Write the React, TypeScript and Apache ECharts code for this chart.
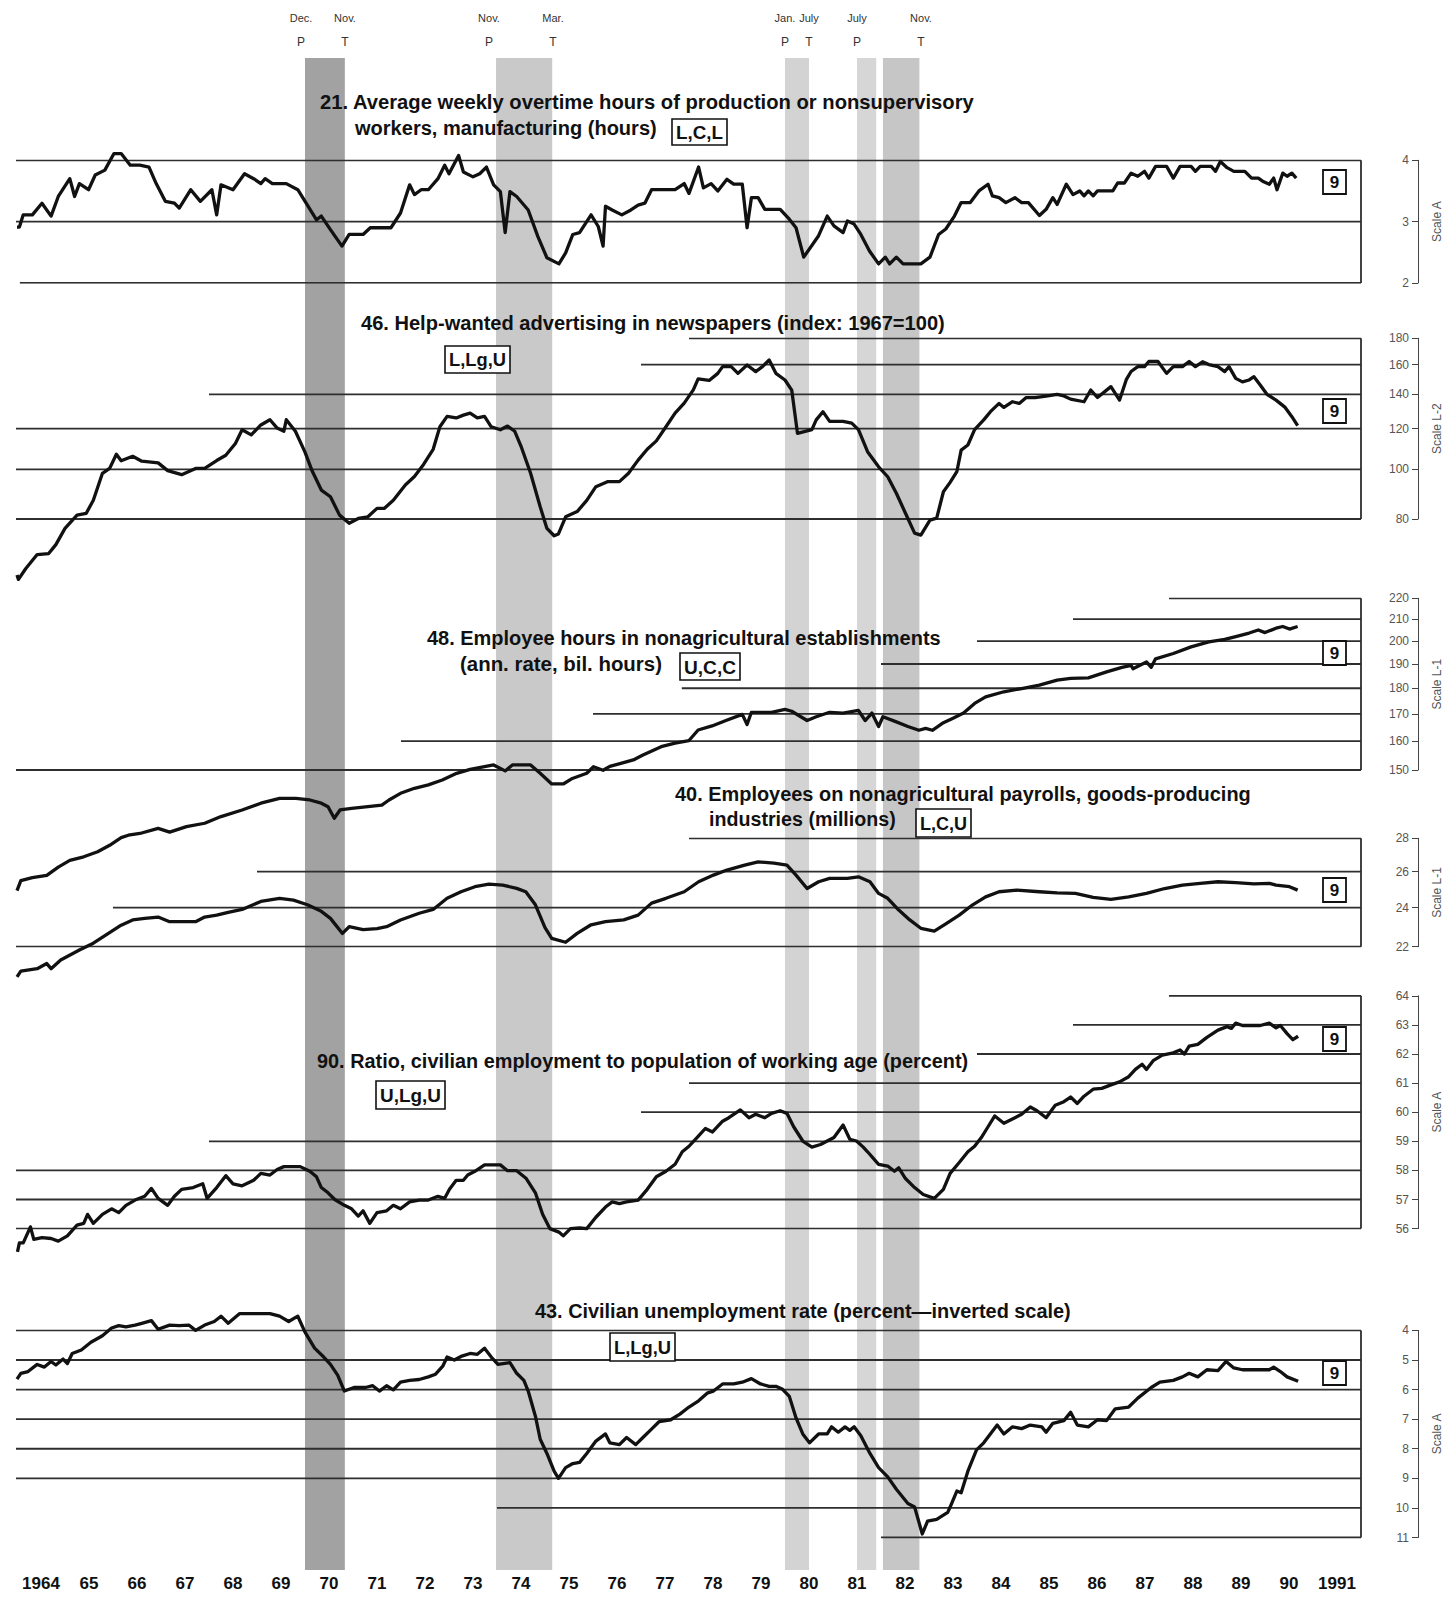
import React, { useEffect, useRef } from "react";
import * as echarts from "echarts";

type Pt = [number, number];

const X_MIN = 1964;
const X_MAX = 1992;

const yearLabels = ["1964", "65", "66", "67", "68", "69", "70", "71", "72", "73", "74", "75", "76", "77", "78", "79", "80", "81", "82", "83", "84", "85", "86", "87", "88", "89", "90", "1991"];

const cycleDates = [1969.917, 1970.833, 1973.833, 1975.167, 1980.0, 1980.5, 1981.5, 1982.833];
const cycleMonths = ["Dec.", "Nov.", "Nov.", "Mar.", "Jan.", "July", "July", "Nov."];
const cycleTypes = ["P", "T", "P", "T", "P", "T", "P", "T"];

const recessionBands: Pt[] = [[1970.0, 1970.83], [1973.98, 1975.15], [1980.0, 1980.5], [1981.5, 1981.9], [1982.04, 1982.8]];
const bandColors = ["#a2a2a2", "#c9c9c9", "#d3d3d3", "#d6d6d6", "#c6c6c6"];

// 21. Average weekly overtime hours (Scale A)
const ticks21 = [2, 3, 4];
const s21: Pt[] = [
  [1964.0, 2.91], [1964.05, 2.91], [1964.13, 3.11], [1964.32, 3.11], [1964.52, 3.3], [1964.71, 3.09], [1964.86, 3.41], [1965.1, 3.7], [1965.2, 3.41], [1965.3, 3.62], [1965.49, 3.52], [1965.63, 3.76], [1965.83, 3.84], [1966.02, 4.11], [1966.17, 4.11], [1966.36, 3.92], [1966.56, 3.92], [1966.75, 3.89], [1966.9, 3.62], [1967.09, 3.33], [1967.28, 3.3], [1967.38, 3.22], [1967.62, 3.52], [1967.82, 3.33], [1968.06, 3.52], [1968.16, 3.11], [1968.25, 3.6], [1968.5, 3.52], [1968.74, 3.78], [1968.93, 3.7], [1969.08, 3.62], [1969.17, 3.7], [1969.32, 3.62], [1969.61, 3.62], [1969.85, 3.52], [1970.05, 3.27], [1970.24, 3.03], [1970.34, 3.09], [1970.53, 2.87], [1970.77, 2.6], [1970.92, 2.79], [1971.21, 2.79], [1971.36, 2.9], [1971.79, 2.9], [1971.99, 3.14], [1972.18, 3.6], [1972.28, 3.44], [1972.42, 3.52], [1972.57, 3.52], [1972.77, 3.7], [1972.91, 3.92], [1973.0, 3.78], [1973.2, 4.08], [1973.3, 3.81], [1973.5, 3.73], [1973.64, 3.78], [1973.78, 3.89], [1973.93, 3.6], [1974.07, 3.49], [1974.17, 2.82], [1974.27, 3.49], [1974.41, 3.41], [1974.65, 3.19], [1974.85, 2.76], [1975.04, 2.41], [1975.29, 2.31], [1975.43, 2.49], [1975.58, 2.79], [1975.72, 2.82], [1975.96, 3.11], [1976.11, 2.92], [1976.21, 2.6], [1976.26, 3.25], [1976.4, 3.19], [1976.6, 3.11], [1976.79, 3.19], [1976.94, 3.27], [1977.08, 3.3], [1977.22, 3.52], [1977.71, 3.52], [1977.9, 3.62], [1978.0, 3.46], [1978.2, 3.89], [1978.3, 3.55], [1978.46, 3.62], [1978.6, 3.5], [1978.79, 3.69], [1978.93, 3.61], [1979.11, 3.61], [1979.21, 2.9], [1979.3, 3.39], [1979.44, 3.39], [1979.58, 3.2], [1979.9, 3.2], [1980.09, 3.04], [1980.23, 2.9], [1980.39, 2.42], [1980.7, 2.77], [1980.88, 3.09], [1981.02, 2.93], [1981.21, 2.82], [1981.3, 3.01], [1981.44, 2.96], [1981.58, 2.79], [1981.76, 2.52], [1981.95, 2.31], [1982.09, 2.42], [1982.18, 2.31], [1982.32, 2.42], [1982.46, 2.31], [1982.83, 2.31], [1983.02, 2.42], [1983.2, 2.79], [1983.35, 2.88], [1983.53, 3.09], [1983.67, 3.31], [1983.86, 3.31], [1984.04, 3.5], [1984.23, 3.61], [1984.32, 3.42], [1984.46, 3.39], [1984.6, 3.31], [1984.79, 3.39], [1984.93, 3.31], [1985.07, 3.31], [1985.3, 3.1], [1985.44, 3.2], [1985.58, 3.39], [1985.67, 3.28], [1985.86, 3.61], [1986.0, 3.44], [1986.14, 3.5], [1986.23, 3.42], [1986.32, 3.5], [1986.42, 3.42], [1986.51, 3.5], [1986.83, 3.5], [1986.93, 3.63], [1987.07, 3.63], [1987.21, 3.79], [1987.35, 3.74], [1987.49, 3.82], [1987.58, 3.71], [1987.72, 3.9], [1987.95, 3.9], [1988.09, 3.71], [1988.23, 3.9], [1988.46, 3.9], [1988.55, 3.82], [1988.65, 3.9], [1988.88, 3.9], [1988.97, 3.82], [1989.07, 3.98], [1989.21, 3.88], [1989.35, 3.82], [1989.58, 3.82], [1989.72, 3.71], [1989.86, 3.71], [1989.95, 3.66], [1990.09, 3.61], [1990.18, 3.71], [1990.25, 3.52], [1990.37, 3.79], [1990.46, 3.74], [1990.56, 3.79], [1990.65, 3.71]
];

// 46. Help-wanted advertising (Scale L-2)
const ticks46 = [80, 100, 120, 140, 160, 180];
const s46: Pt[] = [
  [1964.0, 62.2], [1964.03, 61.0], [1964.18, 64.0], [1964.42, 68.2], [1964.66, 68.5], [1964.81, 71.3], [1965.0, 76.7], [1965.25, 81.4], [1965.44, 82.0], [1965.59, 87.0], [1965.78, 98.2], [1965.93, 100.4], [1966.07, 107.0], [1966.17, 103.9], [1966.41, 106.0], [1966.6, 103.7], [1966.94, 102.9], [1967.14, 99.4], [1967.43, 97.6], [1967.72, 100.4], [1967.91, 100.4], [1968.16, 104.0], [1968.35, 106.5], [1968.55, 112.3], [1968.69, 119.4], [1968.88, 116.7], [1969.08, 122.0], [1969.27, 124.9], [1969.42, 120.3], [1969.56, 118.6], [1969.61, 124.9], [1969.8, 118.6], [1970.0, 108.0], [1970.14, 99.7], [1970.34, 91.1], [1970.53, 88.4], [1970.72, 81.4], [1970.92, 78.5], [1971.11, 80.2], [1971.31, 80.8], [1971.5, 83.9], [1971.65, 83.9], [1971.84, 87.0], [1972.09, 93.2], [1972.28, 96.8], [1972.47, 102.2], [1972.67, 109.4], [1972.81, 121.0], [1972.96, 126.8], [1973.15, 125.9], [1973.3, 127.5], [1973.44, 128.7], [1973.59, 125.9], [1973.74, 126.8], [1973.88, 121.0], [1974.07, 119.4], [1974.22, 121.4], [1974.37, 118.6], [1974.51, 110.3], [1974.7, 98.2], [1974.9, 84.5], [1975.04, 76.7], [1975.19, 74.2], [1975.28, 74.8], [1975.43, 80.8], [1975.67, 82.7], [1975.87, 87.0], [1976.06, 92.5], [1976.3, 94.6], [1976.55, 94.6], [1976.74, 98.2], [1976.94, 104.2], [1977.13, 109.4], [1977.32, 113.6], [1977.52, 121.0], [1977.71, 128.7], [1977.9, 134.6], [1978.09, 142.8], [1978.19, 150.0], [1978.42, 149.0], [1978.6, 153.8], [1978.7, 158.5], [1978.88, 158.5], [1979.02, 153.8], [1979.21, 159.7], [1979.39, 155.0], [1979.53, 158.5], [1979.67, 163.3], [1979.81, 153.8], [1980.0, 149.3], [1980.14, 142.7], [1980.26, 117.5], [1980.42, 118.5], [1980.56, 119.5], [1980.65, 124.8], [1980.79, 129.5], [1980.93, 124.0], [1981.21, 124.0], [1981.39, 123.0], [1981.53, 119.5], [1981.72, 108.2], [1981.95, 101.1], [1982.14, 96.7], [1982.32, 89.8], [1982.51, 82.1], [1982.7, 75.1], [1982.83, 74.4], [1983.02, 79.6], [1983.16, 80.3], [1983.3, 90.4], [1983.44, 94.3], [1983.58, 98.9], [1983.67, 109.0], [1983.81, 111.5], [1983.95, 119.5], [1984.14, 124.8], [1984.28, 129.5], [1984.46, 134.4], [1984.56, 132.0], [1984.74, 135.4], [1984.88, 134.4], [1985.02, 137.9], [1985.21, 137.9], [1985.44, 138.9], [1985.67, 140.0], [1985.81, 139.0], [1985.95, 137.0], [1986.23, 135.4], [1986.37, 142.7], [1986.51, 138.0], [1986.79, 144.9], [1986.97, 136.4], [1987.11, 149.5], [1987.21, 155.1], [1987.35, 158.5], [1987.49, 158.5], [1987.58, 162.2], [1987.77, 162.2], [1987.95, 153.8], [1988.09, 158.5], [1988.28, 158.5], [1988.42, 162.2], [1988.55, 158.5], [1988.7, 162.0], [1988.83, 160.0], [1989.02, 158.5], [1989.16, 155.0], [1989.25, 158.5], [1989.39, 150.4], [1989.53, 148.0], [1989.67, 149.3], [1989.77, 151.5], [1989.9, 146.0], [1990.04, 140.0], [1990.23, 136.4], [1990.42, 132.0], [1990.56, 126.6], [1990.68, 121.6]
];

// 48. Employee hours in nonagricultural establishments (Scale L-1)
const ticks48 = [150, 160, 170, 180, 190, 200, 210, 220];
const s48: Pt[] = [
  [1964.0, 114.6], [1964.08, 117.2], [1964.32, 118.0], [1964.62, 118.6], [1964.86, 120.8], [1965.1, 122.6], [1965.39, 123.6], [1965.68, 125.0], [1965.93, 126.8], [1966.17, 129.0], [1966.32, 129.7], [1966.56, 130.2], [1966.94, 131.7], [1967.18, 130.6], [1967.53, 132.2], [1967.91, 133.2], [1968.25, 135.2], [1968.69, 137.2], [1969.08, 139.3], [1969.47, 140.8], [1969.81, 140.8], [1970.1, 140.3], [1970.34, 139.3], [1970.48, 138.2], [1970.61, 134.7], [1970.73, 137.2], [1970.97, 137.7], [1971.31, 138.2], [1971.6, 138.7], [1971.75, 140.3], [1971.99, 142.4], [1972.28, 144.0], [1972.57, 145.1], [1972.86, 146.7], [1973.16, 148.9], [1973.44, 150.2], [1973.74, 151.1], [1973.93, 151.7], [1974.17, 149.7], [1974.32, 151.7], [1974.7, 151.7], [1974.9, 148.9], [1975.14, 145.4], [1975.38, 145.4], [1975.57, 147.2], [1975.87, 148.9], [1976.01, 151.1], [1976.21, 149.9], [1976.35, 151.2], [1976.84, 153.4], [1977.03, 155.0], [1977.42, 158.0], [1977.71, 159.3], [1978.0, 160.2], [1978.19, 164.0], [1978.48, 165.5], [1978.77, 167.5], [1979.11, 169.8], [1979.21, 166.0], [1979.3, 170.6], [1979.53, 170.6], [1979.72, 170.6], [1980.0, 171.7], [1980.14, 171.0], [1980.46, 167.5], [1980.65, 168.9], [1980.93, 170.6], [1981.21, 170.3], [1981.53, 171.3], [1981.67, 167.5], [1981.81, 170.3], [1981.95, 165.3], [1982.04, 168.9], [1982.32, 167.0], [1982.56, 165.3], [1982.79, 163.9], [1982.93, 164.6], [1983.07, 163.9], [1983.3, 166.7], [1983.49, 168.3], [1983.72, 170.3], [1983.95, 174.0], [1984.18, 176.6], [1984.56, 178.6], [1984.93, 179.9], [1985.3, 181.3], [1985.67, 183.3], [1985.95, 184.0], [1986.32, 184.2], [1986.7, 186.7], [1987.02, 188.6], [1987.21, 189.4], [1987.25, 188.0], [1987.53, 190.9], [1987.63, 188.6], [1987.72, 192.2], [1988.09, 194.5], [1988.46, 197.4], [1988.83, 199.6], [1989.16, 200.7], [1989.39, 202.0], [1989.67, 203.6], [1989.86, 205.0], [1990.0, 203.8], [1990.23, 205.8], [1990.37, 206.6], [1990.51, 205.4], [1990.68, 206.6]
];

// 40. Employees on nonagricultural payrolls, goods-producing (Scale L-1)
const ticks40 = [22, 24, 26, 28];
const s40: Pt[] = [
  [1964.0, 20.57], [1964.08, 20.84], [1964.42, 20.95], [1964.62, 21.19], [1964.71, 20.95], [1964.91, 21.36], [1965.3, 21.84], [1965.59, 22.17], [1965.88, 22.63], [1966.17, 23.08], [1966.41, 23.35], [1966.66, 23.43], [1966.94, 23.5], [1967.18, 23.26], [1967.53, 23.26], [1967.72, 23.26], [1967.91, 23.5], [1968.16, 23.6], [1968.4, 23.75], [1968.69, 23.9], [1969.08, 24.33], [1969.47, 24.5], [1969.76, 24.4], [1970.05, 24.15], [1970.34, 23.8], [1970.53, 23.43], [1970.78, 22.66], [1970.92, 23.0], [1971.21, 22.85], [1971.5, 22.9], [1971.7, 23.0], [1971.99, 23.35], [1972.38, 23.7], [1972.67, 23.9], [1972.96, 24.5], [1973.25, 24.86], [1973.54, 25.14], [1973.83, 25.29], [1974.12, 25.23], [1974.41, 25.05], [1974.6, 24.86], [1974.8, 24.15], [1975.0, 22.95], [1975.14, 22.41], [1975.43, 22.22], [1975.67, 22.66], [1975.96, 23.1], [1976.26, 23.26], [1976.64, 23.35], [1976.94, 23.6], [1977.22, 24.24], [1977.52, 24.5], [1977.9, 24.86], [1978.2, 25.42], [1978.51, 25.8], [1978.79, 26.09], [1979.16, 26.38], [1979.44, 26.57], [1979.77, 26.5], [1980.04, 26.38], [1980.23, 25.8], [1980.46, 25.04], [1980.7, 25.42], [1980.93, 25.61], [1981.3, 25.61], [1981.53, 25.7], [1981.77, 25.42], [1981.95, 24.77], [1982.14, 24.5], [1982.37, 23.87], [1982.6, 23.35], [1982.83, 22.92], [1983.11, 22.78], [1983.35, 23.15], [1983.63, 23.6], [1983.91, 24.15], [1984.18, 24.58], [1984.46, 24.86], [1984.83, 24.95], [1985.3, 24.86], [1985.67, 24.8], [1986.05, 24.77], [1986.42, 24.55], [1986.79, 24.44], [1987.16, 24.58], [1987.53, 24.77], [1987.91, 25.04], [1988.28, 25.23], [1988.65, 25.33], [1989.02, 25.42], [1989.39, 25.37], [1989.77, 25.3], [1990.09, 25.33], [1990.23, 25.23], [1990.51, 25.14], [1990.68, 24.95]
];

// 90. Ratio, civilian employment to population of working age (Scale A)
const ticks90 = [56, 57, 58, 59, 60, 61, 62, 63, 64];
const s90: Pt[] = [
  [1964.01, 55.2], [1964.05, 55.51], [1964.13, 55.51], [1964.28, 56.06], [1964.35, 55.63], [1964.52, 55.69], [1964.71, 55.66], [1964.86, 55.57], [1965.05, 55.75], [1965.25, 56.12], [1965.39, 56.18], [1965.47, 56.49], [1965.59, 56.18], [1965.78, 56.49], [1965.97, 56.68], [1966.12, 56.55], [1966.27, 56.8], [1966.46, 56.98], [1966.66, 57.11], [1966.8, 57.38], [1966.94, 57.04], [1967.14, 56.8], [1967.28, 57.11], [1967.43, 57.35], [1967.67, 57.41], [1967.87, 57.54], [1967.96, 57.04], [1968.16, 57.41], [1968.35, 57.82], [1968.5, 57.54], [1968.69, 57.47], [1968.93, 57.66], [1969.08, 57.9], [1969.27, 57.84], [1969.42, 58.03], [1969.56, 58.13], [1969.9, 58.13], [1970.1, 57.97], [1970.24, 57.78], [1970.34, 57.41], [1970.48, 57.23], [1970.62, 57.0], [1970.82, 56.8], [1970.97, 56.68], [1971.11, 56.43], [1971.21, 56.61], [1971.35, 56.18], [1971.5, 56.55], [1971.7, 56.61], [1971.84, 56.8], [1971.99, 56.68], [1972.18, 56.92], [1972.38, 56.98], [1972.57, 56.98], [1972.77, 57.11], [1972.91, 57.04], [1973.01, 57.35], [1973.15, 57.66], [1973.3, 57.66], [1973.39, 57.84], [1973.54, 57.97], [1973.74, 58.19], [1974.07, 58.19], [1974.22, 57.99], [1974.41, 57.99], [1974.61, 57.72], [1974.8, 57.23], [1974.95, 56.49], [1975.1, 56.0], [1975.29, 55.88], [1975.38, 55.75], [1975.53, 56.0], [1975.72, 56.02], [1975.87, 56.0], [1976.06, 56.39], [1976.26, 56.74], [1976.4, 56.92], [1976.55, 56.86], [1976.7, 56.92], [1976.94, 56.98], [1977.13, 57.35], [1977.32, 57.78], [1977.52, 57.97], [1977.71, 58.21], [1977.86, 58.64], [1978.0, 58.83], [1978.2, 59.19], [1978.34, 59.44], [1978.49, 59.32], [1978.7, 59.69], [1978.83, 59.81], [1979.07, 60.08], [1979.25, 59.81], [1979.39, 59.93], [1979.58, 59.81], [1979.72, 59.96], [1979.9, 60.05], [1980.04, 59.96], [1980.18, 59.5], [1980.37, 59.01], [1980.56, 58.8], [1980.74, 58.89], [1981.02, 59.13], [1981.21, 59.56], [1981.35, 59.07], [1981.49, 59.01], [1981.63, 58.8], [1981.72, 58.64], [1981.95, 58.21], [1982.14, 58.15], [1982.28, 57.97], [1982.37, 58.09], [1982.51, 57.72], [1982.7, 57.41], [1982.88, 57.17], [1983.11, 57.04], [1983.3, 57.35], [1983.44, 57.9], [1983.63, 58.27], [1983.81, 58.64], [1983.95, 58.83], [1984.09, 59.13], [1984.23, 59.5], [1984.37, 59.87], [1984.56, 59.62], [1984.79, 59.81], [1984.93, 59.93], [1985.11, 60.18], [1985.25, 60.05], [1985.44, 59.81], [1985.63, 60.24], [1985.81, 60.36], [1985.95, 60.52], [1986.09, 60.3], [1986.23, 60.55], [1986.42, 60.79], [1986.6, 60.82], [1986.79, 60.94], [1986.97, 61.04], [1987.16, 61.22], [1987.3, 61.47], [1987.44, 61.65], [1987.53, 61.47], [1987.67, 61.77], [1987.86, 61.96], [1988.09, 62.04], [1988.23, 62.14], [1988.32, 62.0], [1988.42, 62.27], [1988.6, 62.33], [1988.79, 62.57], [1989.02, 62.82], [1989.21, 62.94], [1989.3, 62.88], [1989.39, 63.06], [1989.53, 62.98], [1989.72, 62.98], [1989.9, 62.98], [1990.09, 63.06], [1990.23, 62.9], [1990.32, 62.98], [1990.46, 62.7], [1990.58, 62.49], [1990.69, 62.61]
];

// 43. Civilian unemployment rate (Scale A, inverted)
const ticks43 = [4, 5, 6, 7, 8, 9, 10, 11];
const s43: Pt[] = [
  [1964.0, 5.65], [1964.08, 5.45], [1964.23, 5.39], [1964.42, 5.15], [1964.57, 5.24], [1964.71, 5.05], [1964.81, 5.17], [1964.96, 4.97], [1965.05, 5.12], [1965.15, 4.78], [1965.34, 4.66], [1965.54, 4.4], [1965.78, 4.18], [1965.97, 3.92], [1966.12, 3.84], [1966.27, 3.88], [1966.46, 3.82], [1966.6, 3.76], [1966.8, 3.67], [1966.94, 3.96], [1967.18, 3.82], [1967.38, 3.84], [1967.58, 3.82], [1967.72, 4.0], [1967.91, 3.82], [1968.11, 3.7], [1968.25, 3.52], [1968.4, 3.76], [1968.64, 3.43], [1969.03, 3.43], [1969.27, 3.43], [1969.47, 3.52], [1969.66, 3.7], [1969.85, 3.52], [1970.0, 4.06], [1970.2, 4.6], [1970.39, 4.9], [1970.53, 5.15], [1970.68, 5.51], [1970.82, 6.05], [1971.02, 5.93], [1971.26, 5.93], [1971.41, 5.87], [1971.55, 6.05], [1971.7, 5.87], [1971.84, 6.01], [1971.99, 5.75], [1972.18, 5.69], [1972.38, 5.66], [1972.57, 5.57], [1972.72, 5.48], [1972.87, 5.21], [1972.96, 4.9], [1973.11, 5.0], [1973.25, 4.88], [1973.44, 4.78], [1973.59, 4.81], [1973.74, 4.6], [1973.88, 4.9], [1974.02, 5.15], [1974.27, 5.09], [1974.41, 5.45], [1974.56, 5.69], [1974.65, 6.05], [1974.8, 6.9], [1974.9, 7.68], [1975.04, 8.16], [1975.19, 8.76], [1975.28, 9.0], [1975.43, 8.64], [1975.58, 8.5], [1975.72, 8.46], [1975.87, 8.16], [1976.06, 7.74], [1976.26, 7.5], [1976.35, 7.8], [1976.55, 7.86], [1976.7, 7.62], [1976.89, 7.86], [1977.04, 7.62], [1977.23, 7.32], [1977.38, 7.08], [1977.62, 7.02], [1977.81, 6.83], [1978.0, 6.59], [1978.2, 6.38], [1978.39, 6.11], [1978.51, 6.05], [1978.7, 5.81], [1978.93, 5.81], [1979.11, 5.75], [1979.3, 5.63], [1979.49, 5.81], [1979.67, 5.89], [1979.81, 5.89], [1979.95, 5.99], [1980.09, 6.23], [1980.23, 6.96], [1980.37, 7.5], [1980.51, 7.8], [1980.7, 7.5], [1980.88, 7.5], [1980.97, 7.26], [1981.11, 7.44], [1981.25, 7.26], [1981.35, 7.38], [1981.44, 7.26], [1981.58, 7.56], [1981.77, 8.16], [1981.95, 8.64], [1982.14, 8.95], [1982.32, 9.37], [1982.56, 9.85], [1982.7, 9.97], [1982.86, 10.88], [1982.97, 10.45], [1983.16, 10.39], [1983.39, 10.15], [1983.44, 9.97], [1983.58, 9.43], [1983.67, 9.49], [1983.81, 8.76], [1983.99, 8.04], [1984.14, 7.8], [1984.42, 7.2], [1984.56, 7.5], [1984.74, 7.26], [1984.93, 7.32], [1985.11, 7.2], [1985.35, 7.26], [1985.44, 7.44], [1985.58, 7.14], [1985.81, 7.05], [1985.95, 6.77], [1986.09, 7.2], [1986.32, 7.26], [1986.51, 7.02], [1986.7, 7.05], [1986.88, 6.65], [1987.16, 6.59], [1987.35, 6.29], [1987.63, 5.93], [1987.81, 5.75], [1988.09, 5.69], [1988.28, 5.57], [1988.42, 5.45], [1988.6, 5.57], [1988.79, 5.33], [1989.02, 5.36], [1989.19, 5.05], [1989.35, 5.27], [1989.53, 5.33], [1990.09, 5.33], [1990.18, 5.24], [1990.32, 5.39], [1990.46, 5.57], [1990.69, 5.72]
];

const FONT = '"Liberation Sans Narrow", "Liberation Sans", Arial, sans-serif';

interface Panel {
  data: Pt[];
  ticks: number[];
  log: boolean;
  inverse: boolean;
  scaleName: string;
  top: number;
  height: number;
  lineStarts: number[];
}

const panels: Panel[] = [
  { data: s21, ticks: ticks21, log: false, inverse: false, scaleName: "Scale A", top: 160.3, height: 122.6, lineStarts: [1964.06, 1963.97, 1963.97] },
  { data: s46, ticks: ticks46, log: true, inverse: false, scaleName: "Scale L-2", top: 338.3, height: 180.7, lineStarts: [1963.97, 1963.97, 1963.97, 1968.0, 1977.0, 1978.0] },
  { data: s48, ticks: ticks48, log: true, inverse: false, scaleName: "Scale L-1", top: 598.3, height: 171.7, lineStarts: [1963.97, 1972.0, 1976.0, 1977.85, 1982.0, 1984.0, 1986.0, 1988.0] },
  { data: s40, ticks: ticks40, log: true, inverse: false, scaleName: "Scale L-1", top: 838.3, height: 108.4, lineStarts: [1963.97, 1966.0, 1969.0, 1978.0] },
  { data: s90, ticks: ticks90, log: false, inverse: false, scaleName: "Scale A", top: 995.8, height: 232.8, lineStarts: [1963.97, 1963.97, 1963.97, 1968.0, 1977.0, 1978.0, 1984.0, 1986.0, 1988.0] },
  { data: s43, ticks: ticks43, log: false, inverse: true, scaleName: "Scale A", top: 1330.4, height: 207.1, lineStarts: [1963.97, 1963.97, 1963.97, 1963.97, 1963.97, 1963.97, 1974.0, 1982.0] },
];

const titleLines = [
  { text: "21. Average weekly overtime hours of production or nonsupervisory", x: 320, y: 101, w: 655 },
  { text: "workers, manufacturing (hours)", x: 355, y: 127, w: 302 },
  { text: "46. Help-wanted advertising in newspapers (index: 1967=100)", x: 361, y: 322, w: 584 },
  { text: "48. Employee hours in nonagricultural establishments", x: 427, y: 637, w: 514 },
  { text: "(ann. rate, bil. hours)", x: 460, y: 663, w: 202 },
  { text: "40. Employees on nonagricultural payrolls, goods-producing", x: 675, y: 793, w: 576 },
  { text: "industries (millions)", x: 709, y: 819, w: 187 },
  { text: "90. Ratio, civilian employment to population of working age (percent)", x: 317, y: 1060, w: 651 },
  { text: "43. Civilian unemployment rate (percent\u2014inverted scale)", x: 535, y: 1310, w: 536 },
];

const codeBoxes = [
  { text: "L,C,L", x: 672, y: 119, w: 55, h: 26 },
  { text: "L,Lg,U", x: 445, y: 346, w: 65, h: 27 },
  { text: "U,C,C", x: 680, y: 653, w: 60, h: 27 },
  { text: "L,C,U", x: 916, y: 809, w: 55, h: 28 },
  { text: "U,Lg,U", x: 376, y: 1081, w: 69, h: 28 },
  { text: "L,Lg,U", x: 610, y: 1333, w: 65, h: 28 },
];

const nineBoxTops = [170, 399, 641, 878, 1027, 1361];

const tv = (p: Panel, v: number) => (p.log ? Math.log10(v) : v);

export default function App() {
  const ref = useRef<HTMLDivElement>(null);

  useEffect(() => {
    if (!ref.current) return;
    const chart = echarts.init(ref.current, null, { renderer: "svg" });

    const ctx = document.createElement("canvas").getContext("2d");
    const fit = (text: string, size: number, target: number) => {
      if (!ctx) return 1;
      ctx.font = `bold ${size}px ${FONT}`;
      const w = ctx.measureText(text).width;
      return w > 0 ? target / w : 1;
    };

    const LEFT = 17;
    const RIGHT = 86;

    const grids: any[] = [
      { left: LEFT, right: RIGHT, top: 58, height: 1512, containLabel: false, outerBoundsMode: "none" },
      ...panels.map((p) => ({ left: LEFT, right: RIGHT, top: p.top, height: p.height, containLabel: false, outerBoundsMode: "none" })),
    ];

    const xAxes: any[] = [
      {
        gridIndex: 0, type: "value", min: X_MIN, max: X_MAX, position: "bottom",
        axisLine: { show: false }, axisTick: { show: false }, splitLine: { show: false },
        axisLabel: {
          customValues: yearLabels.map((_, i) => X_MIN + 0.5 + i),
          formatter: (v: number) => yearLabels[Math.round(v - X_MIN - 0.5)] ?? "",
          fontFamily: FONT, fontWeight: "bold", fontSize: 17, color: "#111", margin: 5, hideOverlap: false,
        },
      },
      {
        gridIndex: 0, type: "value", min: X_MIN, max: X_MAX, position: "top",
        axisLine: { show: false }, axisTick: { show: false }, splitLine: { show: false },
        axisLabel: {
          customValues: cycleDates,
          formatter: (v: number) => {
            const i = cycleDates.findIndex((d) => Math.abs(d - v) < 1e-6);
            return i < 0 ? "" : `{m|${cycleMonths[i]}}\n{p|${cycleTypes[i]}}`;
          },
          margin: 4, hideOverlap: false,
          rich: {
            m: { fontFamily: FONT, fontSize: 11, color: "#333", lineHeight: 24 },
            p: { fontFamily: FONT, fontSize: 12, color: "#333", lineHeight: 24 },
          },
        },
      },
      ...panels.map((_, i) => ({ gridIndex: i + 1, type: "value", min: X_MIN, max: X_MAX, show: false })),
    ];

    const yAxes: any[] = [
      { gridIndex: 0, type: "value", min: 0, max: 1, show: false },
      ...panels.map((p, i) => {
        const tickVals = p.ticks.map((t) => tv(p, t));
        return {
          gridIndex: i + 1, type: "value", position: "right", offset: 57,
          min: tv(p, p.ticks[0]), max: tv(p, p.ticks[p.ticks.length - 1]), inverse: p.inverse,
          splitLine: { show: false },
          axisLine: { show: true, lineStyle: { color: "#444", width: 1 } },
          axisTick: { show: true, inside: true, length: 6, customValues: tickVals, lineStyle: { color: "#444", width: 1 } },
          axisLabel: {
            inside: true, margin: 9, customValues: tickVals, hideOverlap: false,
            formatter: (v: number) => String(Math.round(p.log ? Math.pow(10, v) : v)),
            fontFamily: FONT, fontSize: 12, color: "#555",
          },
          name: p.scaleName, nameLocation: "middle", nameRotate: 90, nameGap: 13,
          nameTextStyle: { fontFamily: FONT, fontSize: 12, color: "#555" },
        };
      }),
    ];

    const series: any[] = [
      {
        type: "line", xAxisIndex: 0, yAxisIndex: 0, data: [[X_MIN, 0]], symbol: "none",
        lineStyle: { opacity: 0 }, silent: true, z: 1,
        markArea: {
          silent: true,
          data: recessionBands.map((b, i) => [{ xAxis: b[0], itemStyle: { color: bandColors[i] } }, { xAxis: b[1] }]),
        },
      },
    ];

    panels.forEach((p, i) => {
      p.ticks.forEach((t, k) => {
        series.push({
          type: "line", xAxisIndex: i + 2, yAxisIndex: i + 1, symbol: "none", silent: true, z: 2,
          data: [[p.lineStarts[k], tv(p, t)], [X_MAX, tv(p, t)]],
          lineStyle: { color: "#2e2e2e", width: 1.8 },
        });
      });
      series.push({
        type: "line", xAxisIndex: i + 2, yAxisIndex: i + 1, symbol: "none", silent: true, z: 2,
        data: [[X_MAX, tv(p, p.ticks[0])], [X_MAX, tv(p, p.ticks[p.ticks.length - 1])]],
        lineStyle: { color: "#2e2e2e", width: 1.8 },
      });
      series.push({
        type: "line", xAxisIndex: i + 2, yAxisIndex: i + 1, symbol: "none", showSymbol: false, clip: false, z: 4,
        data: p.data.map(([x, v]) => [x, tv(p, v)]),
        lineStyle: { color: "#111", width: 3.3, join: "round" },
      });
    });

    const TITLE_SIZE = 21;
    const graphic: any[] = [];
    titleLines.forEach((t) => {
      graphic.push({
        type: "text", x: t.x, y: t.y, scaleX: fit(t.text, TITLE_SIZE, t.w), z: 20,
        style: {
          text: t.text, fontFamily: FONT, fontWeight: "bold", fontSize: TITLE_SIZE, fill: "#111",
          align: "left", verticalAlign: "middle", textAlign: "left", textVerticalAlign: "middle",
        },
      });
    });
    codeBoxes.forEach((b) => {
      graphic.push({
        type: "rect", z: 20, shape: { x: b.x, y: b.y, width: b.w, height: b.h },
        style: { fill: "#fff", stroke: "#111", lineWidth: 1.6 },
      });
      graphic.push({
        type: "text", z: 21, x: b.x + b.w / 2, y: b.y + b.h / 2 + 1,
        scaleX: fit(b.text, 18, b.w - 8),
        style: {
          text: b.text, fontFamily: FONT, fontWeight: "bold", fontSize: 18, fill: "#111",
          align: "center", verticalAlign: "middle", textAlign: "center", textVerticalAlign: "middle",
        },
      });
    });
    nineBoxTops.forEach((top) => {
      graphic.push({
        type: "rect", z: 20, shape: { x: 1323, y: top, width: 23, height: 24 },
        style: { fill: "#fff", stroke: "#111", lineWidth: 1.8 },
      });
      graphic.push({
        type: "text", z: 21, x: 1334.5, y: top + 12.5,
        style: {
          text: "9", fontFamily: FONT, fontWeight: "bold", fontSize: 17, fill: "#111",
          align: "center", verticalAlign: "middle", textAlign: "center", textVerticalAlign: "middle",
        },
      });
    });

    chart.setOption({
      animation: false,
      backgroundColor: "#ffffff",
      grid: grids,
      xAxis: xAxes,
      yAxis: yAxes,
      series,
      graphic: { elements: graphic },
    });

    return () => chart.dispose();
  }, []);

  return (
    <div
      ref={ref}
      style={{ position: "absolute", left: 0, top: 0, width: 1447, height: 1601, background: "#fff" }}
    />
  );
}
